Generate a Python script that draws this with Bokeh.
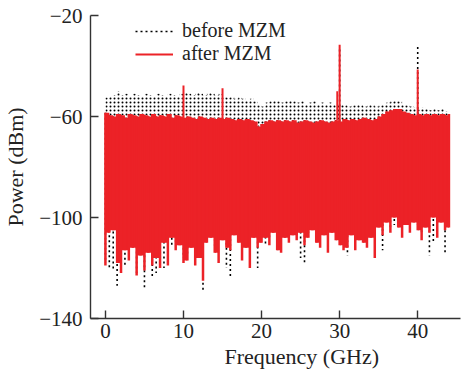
import numpy as np
from bokeh.plotting import figure
from bokeh.models import Legend, LegendItem, FixedTicker, Range1d, Title
from bokeh.embed import file_html
from bokeh.resources import INLINE

# frequency grid (GHz), 0.5 GHz steps from 0 to 44
freq = np.arange(0, 44.01, 0.5)

# upper envelope of the "after MZM" spectrum (dBm)
red_top = [-58.5, -59.5, -60, -59, -59.5, -60.5, -59, -59.5, -60, -59,
           -59.5, -60, -59, -60, -59.5, -60, -59, -60.5, -59.5, -60,
           -60.5, -60, -60.5, -61, -60, -60.5, -61, -60.5, -61, -60.5,
           -61, -60.5, -61, -61.5, -61, -61.5, -61, -61.5, -62, -64,
           -63, -62, -61.5, -62, -61.5, -62, -61.5, -62, -61.5, -62.5,
           -62, -61.5, -62, -62.5, -62, -61.5, -62, -62.5, -62, -61.5,
           -62, -61, -61.5, -61, -61.5, -61, -60.5, -61, -61.5, -61,
           -60, -59, -58, -57.5, -57, -57, -58, -58.5, -59, -59.5,
           -59, -59.5, -59, -59.5, -59, -59.5, -59, -59.5, -59]
# lower envelope of the "after MZM" spectrum (dBm)
red_bot = [-119, -106, -105, -118, -122, -113, -117, -112, -123, -115,
           -121, -114, -119, -116, -120, -110, -119, -108, -113, -111,
           -118, -117, -112, -119, -116, -125, -110, -108, -114, -118,
           -109, -112, -113, -107, -110, -117, -112, -120, -108, -112,
           -110, -108, -111, -106, -113, -114, -108, -110, -107, -109,
           -106, -111, -108, -105, -110, -112, -107, -114, -106, -109,
           -111, -113, -112, -107, -113, -109, -110, -112, -108, -116,
           -104, -107, -102, -106, -100, -104, -108, -103, -106, -102,
           -105, -109, -104, -106, -100, -108, -102, -105, -104]
# upper envelope of the "before MZM" spectrum (dBm)
blk_top = [-52.5, -52, -51.5, -50, -51.5, -51, -52, -51, -51.5, -52,
           -51, -51.5, -52, -51, -51.5, -52, -51, -51.5, -52, -51,
           -50.5, -51, -51.5, -50.5, -51, -51.5, -50.5, -51, -51.5, -51,
           -52, -52.5, -52, -53, -52.5, -53, -53.5, -53, -54, -55.5,
           -56, -54.5, -54, -53.5, -54, -54.5, -54, -53.5, -54, -54.5,
           -54, -55, -54.5, -54, -55, -54.5, -55, -54.5, -55, -55.5,
           -55, -55.5, -56, -55.5, -55, -55.5, -56, -55, -55.5, -56,
           -55.5, -55, -54.5, -54, -53.5, -54, -55, -55.5, -56, -56.5,
           -57, -56.5, -57, -57.5, -57, -57.5, -57, -58, -57.5]
# lower envelope of the "before MZM" spectrum (dBm)
blk_bot = [-118, -120, -121, -127, -117, -119, -115, -113, -122, -113,
           -128, -112, -124, -122, -118, -120, -116, -111, -111, -109,
           -116, -115, -110, -112, -114, -129, -108, -108, -112, -110,
           -107, -120, -124, -105, -108, -109, -110, -109, -106, -120,
           -107, -111, -109, -104, -111, -112, -109, -108, -105, -107,
           -116, -118, -106, -104, -108, -111, -105, -112, -104, -107,
           -109, -106, -115, -105, -107, -107, -108, -110, -106, -114,
           -102, -113, -100, -104, -103, -102, -104, -101, -104, -100,
           -103, -107, -102, -115, -110, -106, -100, -114, -102]

# discrete tones
red_spike_f = [10, 15, 29.7, 30, 40]
red_spike_db = [-47.7, -48.8, -50, -31.6, -41.4]
blk_spike_f = [30, 40]
blk_spike_db = [-32.5, -32.2]

x_ticks = [0, 10, 20, 30, 40]
y_ticks = [-140, -100, -60, -20]
y_tick_labels = ["\u2212140", "\u2212100", "\u221260", "\u221220"]

RED = "#ec2227"
FONT = "Liberation Serif"

p = figure(width=462, height=374, output_backend="svg", toolbar_location=None,
           x_range=Range1d(-1.91, 45.48), y_range=Range1d(-140, -20),
           min_border_left=88, min_border_right=2, min_border_top=15,
           min_border_bottom=56)
p.outline_line_color = None
p.grid.visible = False
p.background_fill_color = "white"

# before MZM: speckled band above, dotted strokes below
p.varea_step(x=freq, y1=red_top, y2=blk_top, step_mode="after",
             fill_alpha=0, hatch_pattern=".", hatch_color="black",
             hatch_scale=4, hatch_weight=1.8)
p.segment(x0=freq, y0=red_top, x1=freq, y1=blk_bot, line_color="black",
          line_width=1.6, line_dash="2 3")
base_idx = [int(round(f / 0.5)) for f in blk_spike_f]
blk_spike = p.segment(x0=blk_spike_f, y0=[red_top[i] for i in base_idx],
                      x1=blk_spike_f, y1=blk_spike_db, line_color="black",
                      line_width=1.6, line_dash="2 3")

# after MZM: solid body reaching the shallower of neighbouring minima,
# thin strokes reaching each minimum
red_solid = list(np.maximum(red_bot[:-1], red_bot[1:])) + [red_bot[-1]]
p.varea_step(x=freq, y1=red_solid, y2=red_top, step_mode="after",
             fill_color=RED)
p.segment(x0=freq, y0=red_top, x1=freq, y1=red_bot, line_color=RED,
          line_width=2.5)
rbase_idx = [int(round(f / 0.5)) for f in red_spike_f]
red_spike = p.segment(x0=red_spike_f, y0=[red_top[i] for i in rbase_idx],
                      x1=red_spike_f, y1=red_spike_db, line_color=RED,
                      line_width=2)

for ax in (p.xaxis[0], p.yaxis[0]):
    ax.axis_line_color = "#333333"
    ax.axis_line_width = 1.4
    ax.major_tick_line_color = "#333333"
    ax.major_tick_line_width = 1.4
    ax.major_tick_in = 8
    ax.major_tick_out = 0
    ax.minor_tick_line_color = None
    ax.major_label_text_font = FONT
    ax.major_label_text_font_size = "21px"
    ax.major_label_text_color = "#222222"
    ax.axis_label_text_font = FONT
    ax.axis_label_text_font_size = "22px"
    ax.axis_label_text_font_style = "normal"
    ax.axis_label_text_color = "#222222"

p.xaxis.ticker = FixedTicker(ticks=x_ticks)
p.yaxis.ticker = FixedTicker(ticks=y_ticks)
p.yaxis.major_label_overrides = dict(zip(y_ticks, y_tick_labels))
p.xaxis.major_label_standoff = 5
p.yaxis.major_label_standoff = 8
p.yaxis.axis_label = "Power (dBm)"
p.yaxis.axis_label_standoff = 8

# x-axis title, placed a little right of the frame centre as in the original
p.add_layout(Title(text="Frequency (GHz)", align="left", offset=134,
                   standoff=3, text_font=FONT, text_font_size="22px",
                   text_font_style="normal", text_color="#222222"), "below")

legend = Legend(items=[LegendItem(label="before MZM", renderers=[blk_spike]),
                       LegendItem(label="after MZM", renderers=[red_spike])],
                location=(45, 253), glyph_width=38, glyph_height=22,
                label_height=22, spacing=0, padding=0, margin=0,
                label_standoff=9, border_line_color=None,
                background_fill_alpha=0, label_text_font=FONT,
                label_text_font_size="20px", label_text_color="#222222")
p.add_layout(legend)

open("out.html", "w").write(file_html(p, INLINE))
